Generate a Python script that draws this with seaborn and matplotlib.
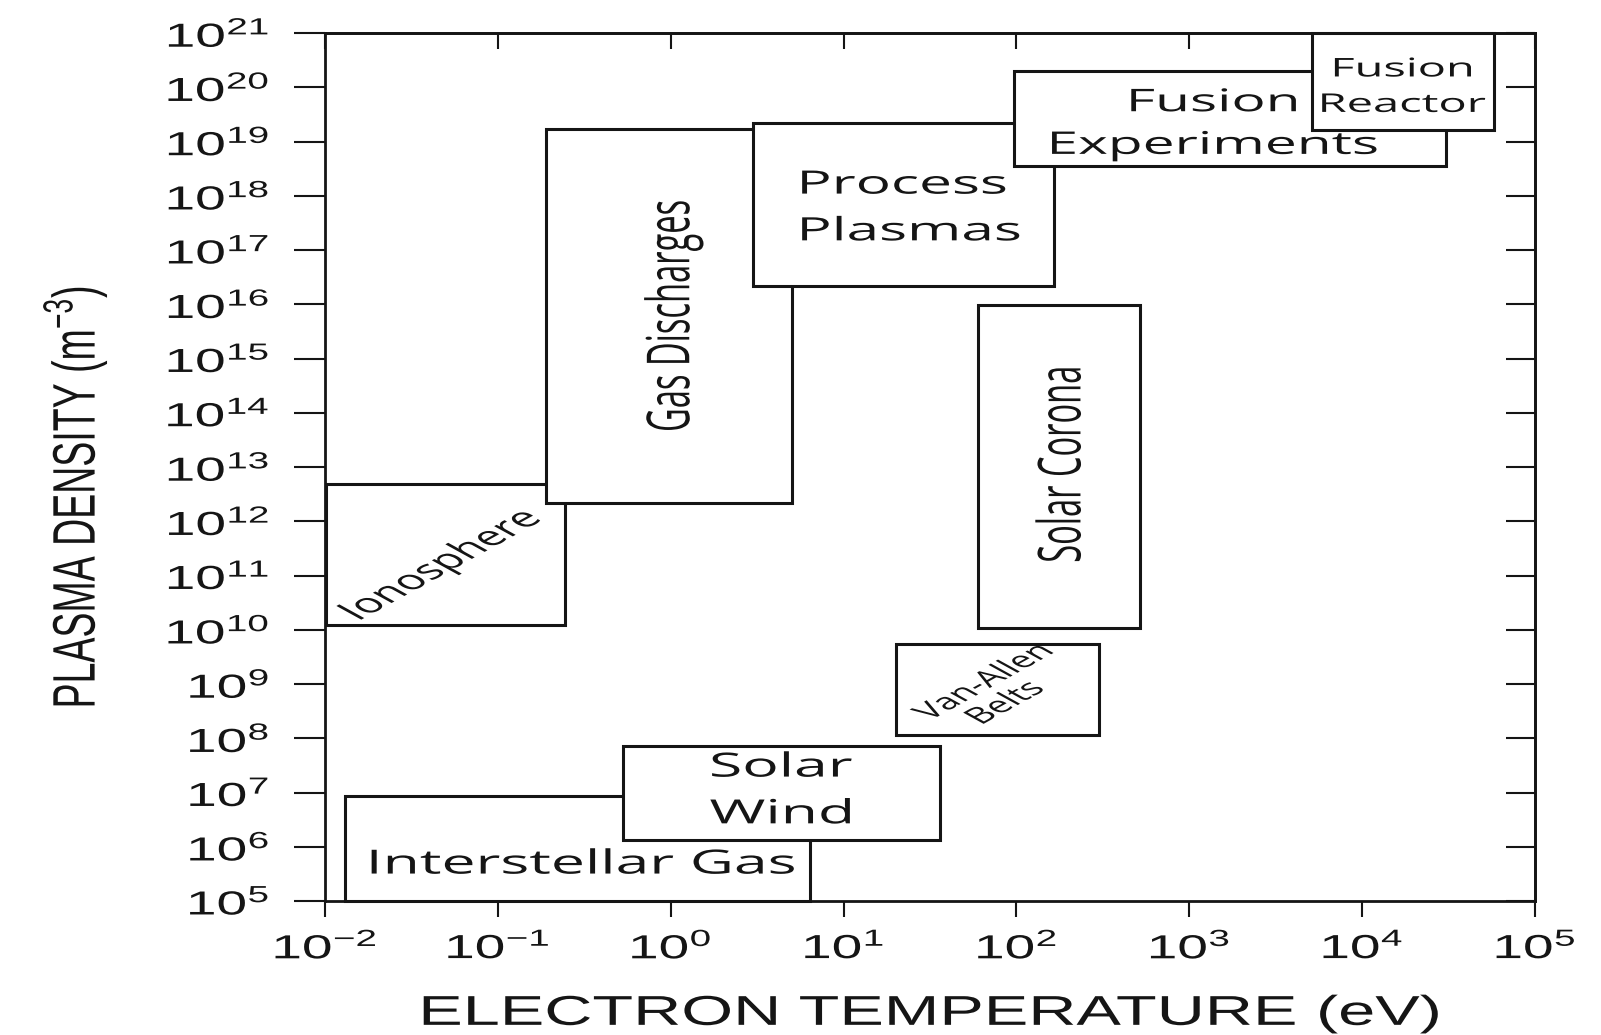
import numpy as np
import matplotlib
matplotlib.use("Agg")
import matplotlib.pyplot as plt
import seaborn as sns
from matplotlib.patches import Rectangle
from matplotlib.path import Path
from matplotlib.patheffects import AbstractPathEffect
from matplotlib.transforms import Affine2D
from matplotlib.ticker import FixedLocator, NullLocator, LogFormatterSciNotation
from matplotlib import font_manager

# Plasma regimes: electron temperature range (eV) and density range (m^-3)
regimes = ["Interstellar Gas", "Solar Wind", "Ionosphere", "Gas Discharges",
           "Process Plasmas", "Fusion Experiments", "Fusion Reactor",
           "Solar Corona", "Van-Allen Belts"]
temp_low = [0.013, 0.53, 0.0101, 0.19, 3.0, 97, 5.1e3, 60, 20]
temp_high = [6.4, 36, 0.245, 5.0, 166, 3.05e4, 5.8e4, 520, 300]
dens_low = [1e5, 1.33e6, 1.2e10, 2.2e12, 2.2e16, 3.5e18, 1.6e19, 1.07e10, 1.15e8]
dens_high = [8.7e6, 7.3e7, 4.8e12, 1.7e19, 2.2e19, 2.0e20, 1e21, 9.5e15, 5.5e9]
box_text = ["Interstellar Gas", "Solar\nWind", "Ionosphere", "Gas Discharges",
            "Process\nPlasmas", "Fusion\nExperiments", "Fusion\nReactor",
            "Solar Corona", "Van-Allen\nBelts"]

x_ticks = [1e-2, 1e-1, 1e0, 1e1, 1e2, 1e3, 1e4, 1e5]
y_ticks = [1e5, 1e6, 1e7, 1e8, 1e9, 1e10, 1e11, 1e12, 1e13, 1e14, 1e15,
           1e16, 1e17, 1e18, 1e19, 1e20, 1e21]

x_title = "ELECTRON TEMPERATURE (eV)"
y_title = r"PLASMA DENSITY (m$^{\mathdefault{-3}}$)"

# Per-label styling: font size, rotation, offset (pt), horizontal alignment
label_style = {
    "Interstellar Gas":   dict(size=24,   rot=0,  off=(3.5, -12), ha="center"),
    "Solar Wind":         dict(size=24,   rot=0,  off=(0, 1.0),   ha="center"),
    "Ionosphere":         dict(size=19.5, rot=45, off=(-3.6, -7.5), ha="center"),
    "Gas Discharges":     dict(size=23.5, rot=90, off=(3.6, 0),   ha="center"),
    "Process Plasmas":    dict(size=23.2, rot=0,  off=(33, -3),   ha="left"),
    "Fusion Experiments": dict(size=22.5, rot=0,  off=(-12, -4.3), ha="center"),
    "Fusion Reactor":     dict(size=18.6, rot=0,  off=(0, -4.3),  ha="center"),
    "Solar Corona":       dict(size=23.5, rot=90, off=(2, 1.7),   ha="center"),
    "Van-Allen Belts":    dict(size=16,   rot=45, off=(-2, -2.5), ha="center"),
}


class WidenText(AbstractPathEffect):
    """Draw glyphs widened horizontally about one edge (or the middle) of each line."""

    def __init__(self, factor, anchor="center"):
        super().__init__()
        self.factor = factor
        self.anchor = anchor

    def draw_path(self, renderer, gc, tpath, affine, rgbFace=None):
        verts = tpath.vertices
        if tpath.codes is not None:
            verts = verts[tpath.codes != Path.CLOSEPOLY]
        xs = affine.transform(verts)[:, 0] if len(verts) else np.array([0.0])
        lo, hi = np.nanmin(xs), np.nanmax(xs)
        pivot = {"left": lo, "right": hi}.get(self.anchor, 0.5 * (lo + hi))
        widen = Affine2D().translate(-pivot, 0).scale(self.factor, 1).translate(pivot, 0)
        renderer.draw_path(gc, tpath, affine + widen, rgbFace)


def has_font(name):
    return any(f.name == name for f in font_manager.fontManager.ttflist)


sns.set_style("ticks")
axis_font = "Liberation Sans" if has_font("Liberation Sans") else "DejaVu Sans"
narrow_font = "Liberation Sans Narrow" if has_font("Liberation Sans Narrow") else axis_font
label_font = "Open Sans" if has_font("Open Sans") else "DejaVu Sans"
plt.rcParams["font.family"] = [axis_font, "DejaVu Sans"]
plt.rcParams["axes.unicode_minus"] = False
plt.rcParams["mathtext.default"] = "regular"

ink = "#151515"

fig = plt.figure(figsize=(16.01, 10.35), dpi=100)
fig.patch.set_facecolor("white")
ax = fig.add_axes([325 / 1601, 1 - 901 / 1035, 1210 / 1601, 868 / 1035])
ax.set_facecolor("white")
ax.set_xscale("log")
ax.set_yscale("log")
ax.set_xlim(x_ticks[0], x_ticks[-1])
ax.set_ylim(y_ticks[0], y_ticks[-1])

# Regime boxes, later ones drawn over earlier ones
for i, name in enumerate(regimes):
    ax.add_patch(Rectangle((temp_low[i], dens_low[i]),
                           temp_high[i] - temp_low[i], dens_high[i] - dens_low[i],
                           facecolor="white", edgecolor=ink, lw=2.2,
                           zorder=2 + i, clip_on=False))

for i, name in enumerate(regimes):
    st = label_style[name]
    xc = temp_low[i] if st["ha"] == "left" else np.sqrt(temp_low[i] * temp_high[i])
    yc = np.sqrt(dens_low[i] * dens_high[i])
    ax.annotate(box_text[i], xy=(xc, yc), xytext=st["off"], textcoords="offset points",
                ha=st["ha"], va="center", rotation=st["rot"], fontsize=st["size"],
                family=[label_font, "DejaVu Sans"], color=ink, linespacing=1.55,
                multialignment=st["ha"] if st["ha"] == "left" else "center",
                zorder=30, annotation_clip=False,
                path_effects=[WidenText(1.82, "left" if st["ha"] == "left" else "center")])

# Axes, ticks and labels
ax.xaxis.set_major_locator(FixedLocator(x_ticks))
ax.yaxis.set_major_locator(FixedLocator(y_ticks))
ax.xaxis.set_minor_locator(NullLocator())
ax.yaxis.set_minor_locator(NullLocator())
ax.xaxis.set_major_formatter(LogFormatterSciNotation())
ax.yaxis.set_major_formatter(LogFormatterSciNotation())
ax.tick_params(axis="x", which="major", direction="out", length=11.5, width=1.5,
               pad=10, labelsize=24, colors=ink, top=False, bottom=True)
ax.tick_params(axis="y", which="major", direction="out", length=22, width=1.5,
               pad=18, labelsize=24, colors=ink, left=True, right=False)
for sp in ax.spines.values():
    sp.set_linewidth(2)
    sp.set_color(ink)
    sp.set_visible(True)

top = ax.secondary_xaxis("top")
top.set_xticks(x_ticks)
top.tick_params(axis="x", which="major", direction="in", length=11.5, width=1.5,
                labeltop=False, colors=ink)
top.tick_params(axis="x", which="minor", length=0)
top.spines["top"].set_linewidth(2)

right = ax.secondary_yaxis("right")
right.set_yticks(y_ticks)
right.tick_params(axis="y", which="major", direction="in", length=21, width=1.5,
                  labelright=False, colors=ink)
right.tick_params(axis="y", which="minor", length=0)
right.spines["right"].set_linewidth(2)

for lab in ax.get_xticklabels():
    lab.set_path_effects([WidenText(1.65, "center")])
for lab in ax.get_yticklabels():
    lab.set_path_effects([WidenText(1.65, "right")])

ax.set_xlabel(x_title, fontsize=30, color=ink, path_effects=[WidenText(1.6)])
ax.xaxis.set_label_coords(0.5, -0.130)
ax.xaxis.label.set_va("center")

ax.set_ylabel(y_title, fontsize=32 if narrow_font != axis_font else 27, color=ink,
              family=[narrow_font, "DejaVu Sans"], path_effects=[WidenText(1.6)])
ax.yaxis.set_label_coords(-0.207, 0.4654)
ax.yaxis.label.set_va("center")

fig.savefig("out.png", dpi=100, facecolor="white")
